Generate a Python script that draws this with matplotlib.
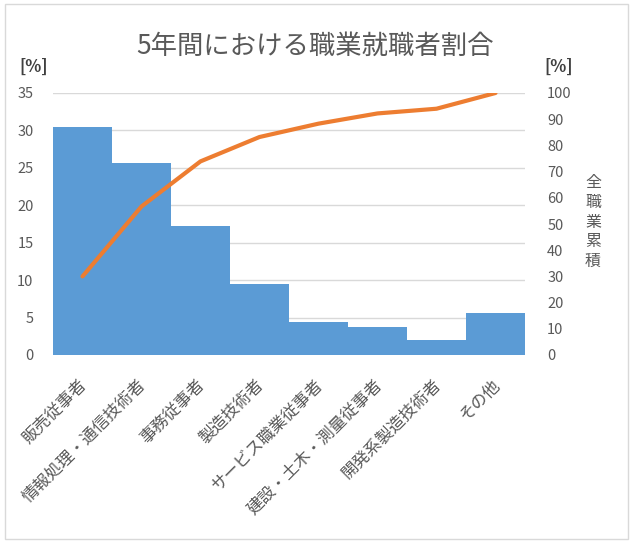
import matplotlib as mpl
import matplotlib.pyplot as plt
from matplotlib.patches import Rectangle
from matplotlib.transforms import ScaledTranslation
import numpy as np

mpl.rcParams["font.family"] = ["Noto Sans CJK JP", "DejaVu Sans"]

# データ
categories = ["販売従事者", "情報処理・通信技術者", "事務従事者", "製造技術者",
              "サービス職業従事者", "建設・土木・測量従事者", "開発系製造技術者", "その他"]
shares = [30.4, 25.7, 17.2, 9.5, 4.4, 3.8, 2.0, 5.6]          # 職業別割合 [%]
cumulative = [30.0, 56.7, 73.9, 83.2, 88.3, 92.2, 94.0, 100.0]  # 全職業累積 [%]

gray = "#595959"

fig = plt.figure(dpi=100, figsize=(6.3, 5.41))
fig.patches.append(Rectangle((5 / 630, 2 / 541), 623 / 630, 535 / 541,
                             transform=fig.transFigure, fill=False,
                             edgecolor="#D9D9D9", lw=1))

ax = fig.add_axes([53 / 630, 1 - 355 / 541, 472 / 630, 262 / 541])
x = np.arange(len(categories))
ax.bar(x, shares, width=1.0, color="#5B9BD5", zorder=2)
ax.set_xlim(-0.5, len(categories) - 0.5)
ax.set_ylim(0, 35)
ax.set_yticks(np.arange(0, 36, 5))
ax.grid(axis="y", color="#D9D9D9", lw=1, zorder=0)
ax.set_axisbelow(True)
for s in ax.spines.values():
    s.set_visible(False)
ax.tick_params(axis="y", length=0, pad=14, labelsize=10.5, labelcolor=gray)
ax.tick_params(axis="x", length=0, pad=6, labelsize=12, labelcolor=gray)
ax.set_xticks(x)
ax.set_xticklabels(categories, rotation=45, ha="right", rotation_mode="anchor")
# ラベルを少し下へずらす
shift = ScaledTranslation(-4 / 100, -13 / 100, fig.dpi_scale_trans)
for lab in ax.get_xticklabels():
    lab.set_transform(lab.get_transform() + shift)

ax2 = ax.twinx()
ax2.plot(x, cumulative, color="#ED7D31", lw=3, solid_capstyle="round", zorder=3)
ax2.set_ylim(0, 100)
ax2.set_yticks(np.arange(0, 101, 10))
for s in ax2.spines.values():
    s.set_visible(False)
ax2.tick_params(axis="y", length=0, pad=16, labelsize=10.5, labelcolor=gray)

fig.text(315 / 630, 1 - 46 / 541, "5年間における職業就職者割合", ha="center", va="center",
         fontsize=19, color=gray)
fig.text(34 / 630, 1 - 67 / 541, "[%]", ha="center", va="center", fontsize=12,
         color="#404040", fontweight="bold")
fig.text(559 / 630, 1 - 67 / 541, "[%]", ha="center", va="center", fontsize=12,
         color="#404040", fontweight="bold")
fig.text(593 / 630, 1 - 222 / 541, "\n".join("全職業累積"), ha="center", va="center",
         fontsize=11.5, color=gray, linespacing=1.2)

fig.savefig("out.png", dpi=100)
